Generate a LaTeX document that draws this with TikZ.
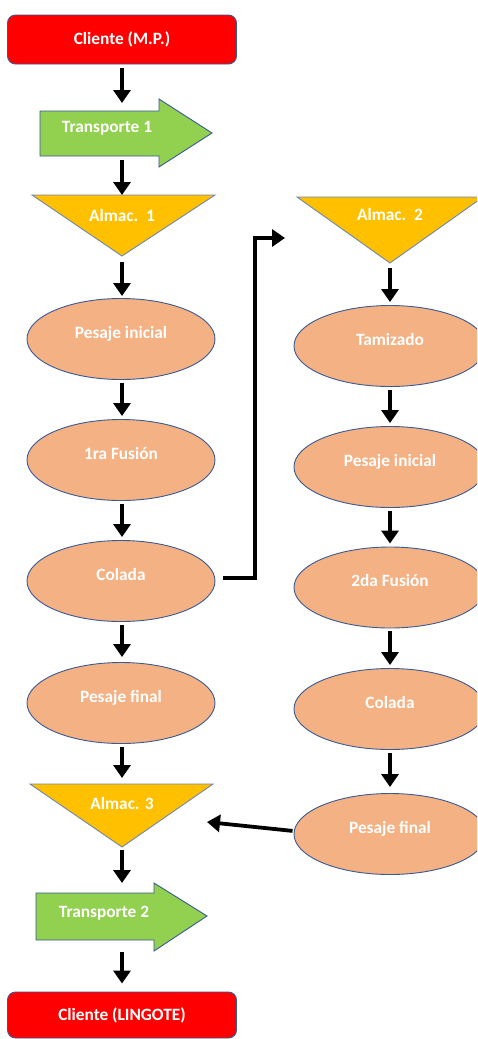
\documentclass[tikz,border=0pt]{standalone}
\usepackage{fontspec}
\setmainfont{Carlito}
\usetikzlibrary{shapes.geometric,arrows.meta}
\definecolor{cred}{HTML}{FF0000}
\definecolor{cgreen}{HTML}{92D050}
\definecolor{cyel}{HTML}{FFC000}
\definecolor{peach}{HTML}{F4B183}
\definecolor{outl}{HTML}{3A5A94}
\definecolor{toutl}{HTML}{6F86AE}
\newcommand\lblfont{\bfseries\fontsize{17.3}{20}\selectfont}
\begin{document}
\begin{tikzpicture}[x=1pt,y=-1pt,
 conn/.style={line width=3.8pt,-{Triangle[width=17pt,length=13pt]}},
 proc/.style={ellipse,draw=outl,line width=0.9pt,fill=peach,minimum width=188pt,minimum height=81pt,inner sep=0pt,text=white,font=\lblfont,text height=11pt,text depth=13pt},
 endbox/.style={rectangle,rounded corners=8pt,draw=outl,line width=0.9pt,fill=cred,text=white,font=\lblfont,minimum width=229pt},
 lbl/.style={text=white,font=\lblfont,inner sep=0pt},
 tri/.style={fill=cyel,draw=toutl,line width=0.9pt},
 blk/.style={fill=cgreen,draw=outl,line width=0.9pt},
 plain/.style={inner sep=0pt,minimum size=0pt,outer sep=0pt}
]
\clip (0,0) rectangle (477,1039);
\useasboundingbox (0,0) rectangle (477,1039);
\fill[white] (0,0) rectangle (477,1039);

% ---------- left column ----------
\node[endbox,minimum height=49pt] (cli1) at (122,39.5) {Cliente (M.P.)};

\node[plain,minimum width=119pt,minimum height=45pt] (t1) at (99.5,133.5) {};
\draw[blk] (t1.north west) -- (t1.north east) -- (159,99) -- (212,133) -- (159,167) -- (t1.south east) -- (t1.south west) -- cycle;
\node[lbl] (t1t) at (107,128) {Transporte 1};

\coordinate (a1l) at (32,195);
\coordinate (a1r) at (215,195);
\coordinate (a1b) at (122,256);
\draw[tri] (a1l) -- (a1r) -- (a1b) -- cycle;
\node[lbl] (a1t) at (122,215) {Almac.\ \ 1};

\node[proc] (p1) at (121,339) {Pesaje inicial};
\node[proc] (f1) at (121,460) {1ra Fusión};
\node[proc] (c1) at (121,581) {Colada};
\node[proc] (pf1) at (121,703) {Pesaje final};

\coordinate (a3l) at (30,784);
\coordinate (a3r) at (213,784);
\coordinate (a3b) at (122,847);
\draw[tri] (a3l) -- (a3r) -- (a3b) -- cycle;
\node[lbl] (a3t) at (122,803) {Almac. 3};

\node[plain,minimum width=118pt,minimum height=47pt] (t2) at (95,916.5) {};
\draw[blk] (t2.north west) -- (t2.north east) -- (154,883) -- (207,916) -- (154,951) -- (t2.south east) -- (t2.south west) -- cycle;
\node[lbl] (t2t) at (104,913) {Transporte 2};

\node[endbox,minimum height=46pt] (cli2) at (122,1015) {Cliente (LINGOTE)};

% ---------- right column ----------
\coordinate (a2l) at (297,197);
\coordinate (a2r) at (483,197);
\coordinate (a2b) at (390,263);
\draw[tri] (a2l) -- (a2r) -- (a2b) -- cycle;
\node[lbl] (a2t) at (390,214) {Almac.\ \ 2};

\node[proc,minimum width=192pt] (tam) at (390,346) {Tamizado};
\node[proc,minimum width=192pt] (p2) at (390,467) {Pesaje inicial};
\node[proc,minimum width=192pt] (f2) at (390,587.5) {2da Fusión};
\node[proc,minimum width=192pt] (c2) at (390,709) {Colada};
\node[proc,minimum width=192pt] (pf2) at (390,834) {Pesaje final};

% ---------- connectors ----------
\draw[conn,shorten <=4pt,shorten >=8pt] (cli1.south) -- (cli1.south |- t1.north);
\draw[conn,shorten <=4pt] (cli1.south |- t1.south) -- (cli1.south |- a1l);
\draw[conn,shorten <=6pt,shorten >=2pt] (a1b) -- (a1b |- p1.north);
\draw[conn,shorten <=3pt,shorten >=3pt] (a1b |- p1.south) -- (a1b |- f1.north);
\draw[conn,shorten <=3pt,shorten >=3pt] (a1b |- f1.south) -- (a1b |- c1.north);
\draw[conn,shorten <=3pt,shorten >=5pt] (a1b |- c1.south) -- (a1b |- pf1.north);
\draw[conn,shorten <=3pt,shorten >=6pt] (a1b |- pf1.south) -- (a1b |- a3l);
\draw[conn,shorten <=3pt,shorten >=10pt] (a3b) -- (a3b |- t2.north);
\draw[conn,shorten <=12pt,shorten >=8pt] (a3b |- t2.south) -- (a3b |- cli2.north);

\draw[conn,shorten <=5pt,shorten >=3pt] (a2b) -- (a2b |- tam.north);
\draw[conn,shorten <=3pt,shorten >=3pt] (tam.south) -- (p2.north);
\draw[conn,shorten <=3pt,shorten >=3pt] (p2.south) -- (f2.north);
\draw[conn,shorten <=3pt,shorten >=3pt] (f2.south) -- (c2.north);
\draw[conn,shorten <=3pt,shorten >=6pt] (c2.south) -- (pf2.north);

\coordinate (a3in) at (207,822);
\draw[conn,shorten <=1pt] ([yshift=3pt]pf2.west) -- (a3in);

\coordinate (j1) at (255,238);
\coordinate (a2in) at (285,238);
\draw[conn,shorten <=8pt] ([yshift=3pt]c1.east) -| (j1) -- (a2in);
\end{tikzpicture}
\end{document}
